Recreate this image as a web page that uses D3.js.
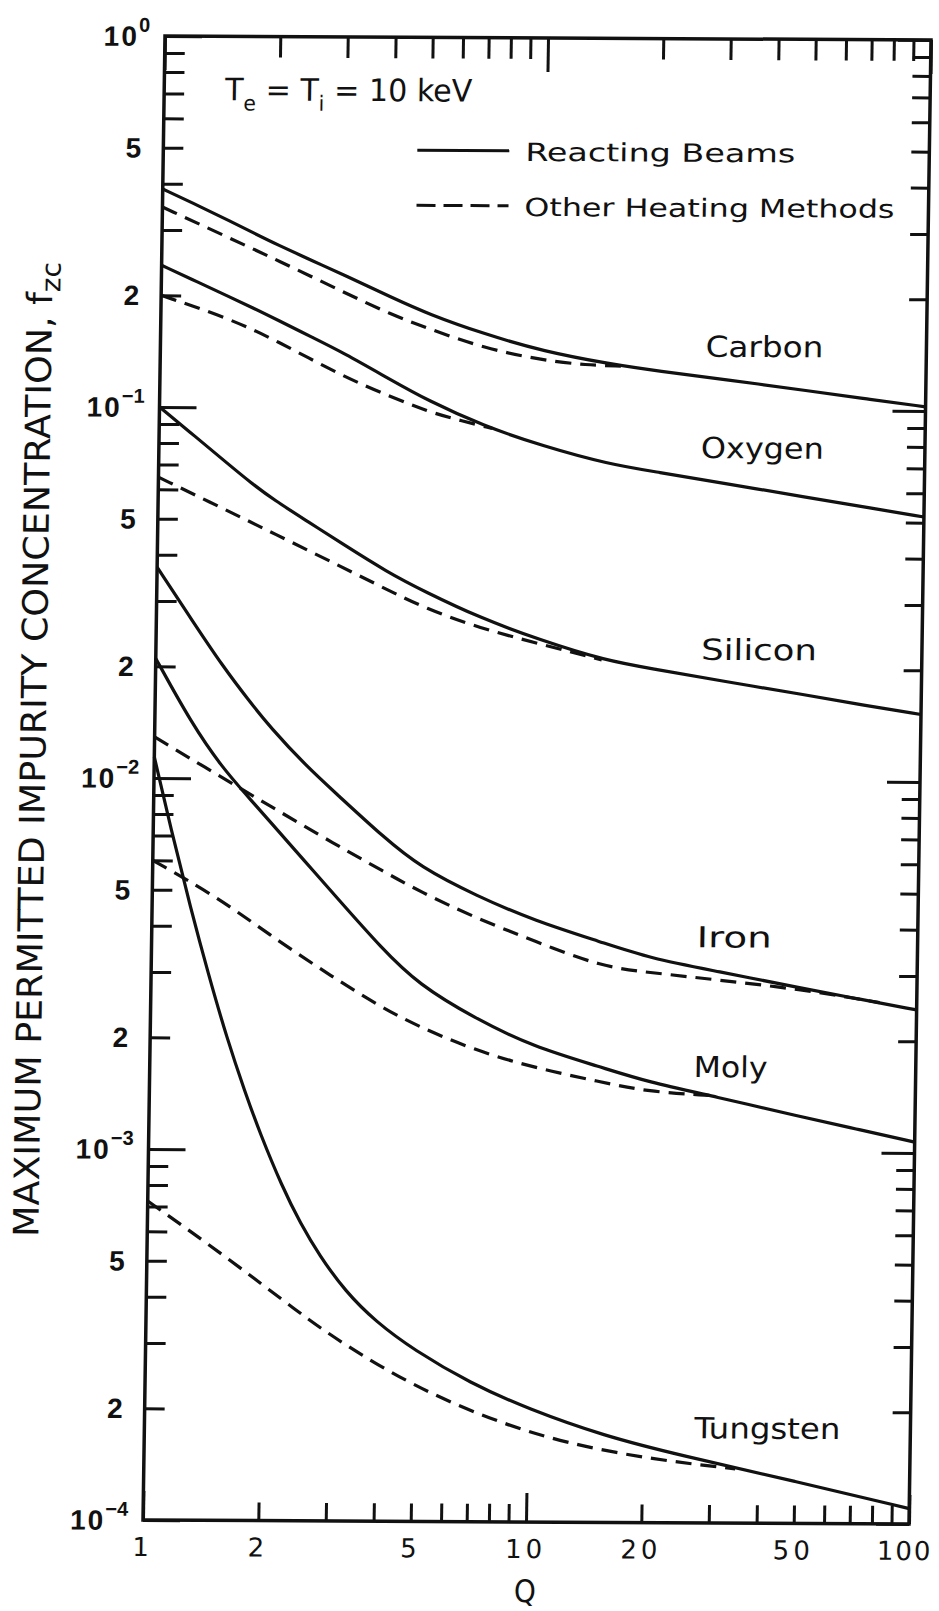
<!DOCTYPE html>
<html>
<head>
<meta charset="utf-8">
<script src="https://cdnjs.cloudflare.com/ajax/libs/d3/7.8.5/d3.min.js"></script>
<style>
  html, body { margin: 0; padding: 0; background: #fff; }
  svg { display: block; }
  text { fill: #111; }
</style>
</head>
<body>
<svg id="chart"></svg>
<script>
// Q grid used for most of the "Reacting Beams" (solid) curves
const qBeam = [1, 1.25, 1.5, 1.75, 2, 2.5, 3, 4, 5, 7, 10, 15, 20, 30, 50, 70, 100];

const carbonBeam  = [0.387, 0.348, 0.318, 0.294, 0.275, 0.248, 0.228, 0.199, 0.1795, 0.159, 0.143, 0.1324, 0.127, 0.1208, 0.1127, 0.1076, 0.1026];
const oxygenBeam  = [0.241, 0.217, 0.199, 0.185, 0.173, 0.1545, 0.141, 0.1194, 0.1052, 0.09, 0.0796, 0.0711, 0.0679, 0.0634, 0.0582, 0.055, 0.0518];
const siliconBeam = [0.1, 0.083, 0.0711, 0.0625, 0.0565, 0.0489, 0.0434, 0.0361, 0.0321, 0.0273, 0.0239, 0.021, 0.02, 0.0186, 0.0171, 0.0161, 0.0152];
const ironBeam    = [0.037, 0.0263, 0.02, 0.0163, 0.01377, 0.0108, 0.00912, 0.00697, 0.0058, 0.00487, 0.00417, 0.00366, 0.00332, 0.00307, 0.00277, 0.0026, 0.00243];
const molyBeam    = [0.021, 0.014, 0.01075, 0.009, 0.00773, 0.00598, 0.00485, 0.00349, 0.0028, 0.00228, 0.00191, 0.00169, 0.00154, 0.00141, 0.00125, 0.00116, 0.00107];
// tungsten falls steeply, so it is read on a finer Q grid
const qTungstenBeam = [1, 1.122, 1.259, 1.413, 1.585, 1.778, 1.95, 2.239, 2.512, 2.818, 3.311, 3.981, 5.012, 7.079, 10, 15.85, 25.12, 50.12, 100];
const tungstenBeam  = [0.0114, 0.00705, 0.00449, 0.00295, 0.002, 0.001426, 0.00111, 0.000796, 0.000632, 0.00052, 0.000415, 0.000345, 0.00029, 0.000236, 0.000202, 0.000171, 0.000152, 0.00013, 0.00011];

// "Other Heating Methods" (dashed) curves, each stops where it joins the solid one
const qCarbonOther = [1, 1.5, 2, 3, 4, 5, 7, 10, 13, 16];
const carbonOther  = [0.346, 0.286, 0.25, 0.205, 0.1786, 0.1642, 0.1455, 0.1352, 0.1315, 0.1308];
const qOxygenOther = [1, 1.5, 2, 3, 4, 5, 6, 7.4];
const oxygenOther  = [0.2, 0.174, 0.152, 0.1216, 0.1076, 0.0982, 0.0933, 0.0885];
const qSiliconOther = [1, 1.5, 2, 3, 4, 5, 7, 10, 14.6];
const siliconOther  = [0.0647, 0.053, 0.0459, 0.0375, 0.0324, 0.029, 0.0256, 0.0233, 0.0211];
const qIronOther = [1, 1.5, 2, 3, 4, 5, 7, 10, 15, 20, 30, 50, 80];
const ironOther  = [0.0129, 0.01007, 0.00847, 0.00665, 0.00565, 0.00498, 0.00424, 0.00368, 0.00314, 0.00304, 0.00291, 0.00275, 0.00254];
const qMolyOther = [1, 1.5, 2, 3, 4, 5, 7, 10, 15, 20, 29];
const molyOther  = [0.006, 0.00474, 0.00383, 0.00291, 0.00243, 0.00216, 0.00187, 0.00168, 0.00154, 0.00145, 0.00142];
const qTungstenOther = [1, 1.585, 2.512, 3.311, 5.012, 7.943, 12.59, 21.38, 35];
const tungstenOther  = [0.000724, 0.00052, 0.000363, 0.000298, 0.000232, 0.000189, 0.000163, 0.000148, 0.00014];

const elementNames = ["Carbon", "Oxygen", "Silicon", "Iron", "Moly", "Tungsten"];
// where each element name sits (Q, f at the start of its baseline)
const labelQ = [26.5, 26, 26.5, 26.5, 26.3, 27.3];
const labelF = [0.139, 0.0741, 0.0212, 0.00356, 0.00159, 0.000169];

// tick labels
const xTickLabels = [1, 2, 5, 10, 20, 50, 100];
const yDecadeLabels = [1, 0.1, 0.01, 0.001, 0.0001];
const yDecadeExp = ["0", "-1", "-2", "-3", "-4"];
const yMinorLabels = [0.5, 0.2, 0.05, 0.02, 0.005, 0.002, 0.0005, 0.0002];

const toPoints = (qs, vals) => qs.map((q, i) => ({ q: q, f: vals[i] }));
const beamSeries = [
    toPoints(qBeam, carbonBeam), toPoints(qBeam, oxygenBeam), toPoints(qBeam, siliconBeam),
    toPoints(qBeam, ironBeam), toPoints(qBeam, molyBeam), toPoints(qTungstenBeam, tungstenBeam)
];
const otherSeries = [
    toPoints(qCarbonOther, carbonOther), toPoints(qOxygenOther, oxygenOther),
    toPoints(qSiliconOther, siliconOther), toPoints(qIronOther, ironOther),
    toPoints(qMolyOther, molyOther), toPoints(qTungstenOther, tungstenOther)
];

// plot box (the scanned figure is slightly skewed, so the whole figure gets a small shear)
const width = 939, height = 1611;
const W = 766, H = 1484;

const svg = d3.select("#chart")
    .attr("width", width)
    .attr("height", height);

svg.append("rect").attr("width", width).attr("height", height).attr("fill", "#fff");

const g = svg.append("g")
    .attr("transform", `matrix(1, ${4 / W}, ${-22 / H}, 1, 165, 36)`);

const x = d3.scaleLog().domain([1, 100]).range([0, W]);
const y = d3.scaleLog().domain([1e-4, 1]).range([H, 0]);

const isDecade = d => Math.abs(Math.log10(d) - Math.round(Math.log10(d))) < 1e-6;
const ink = "#111";

// ticks on all four sides, pointing inward
function tickAxis(gen, tr, minor, major) {
    const a = g.append("g")
        .attr("transform", tr)
        .call(gen.tickFormat("").tickSizeOuter(0).tickSizeInner(minor));
    a.select(".domain").remove();
    a.selectAll(".tick line")
        .attr("stroke", ink)
        .attr("stroke-width", 3);
    a.selectAll(".tick").filter(d => isDecade(d)).select("line")
        .each(function () {
            const ln = d3.select(this);
            if (ln.attr("y2") !== null) ln.attr("y2", Math.sign(+ln.attr("y2")) * major);
            if (ln.attr("x2") !== null) ln.attr("x2", Math.sign(+ln.attr("x2")) * major);
        });
    return a;
}

tickAxis(d3.axisBottom(x).tickValues(x.ticks()), `translate(0,${H})`, -18, 29);
tickAxis(d3.axisTop(x).tickValues(x.ticks()), `translate(0,0)`, -21, 34);
tickAxis(d3.axisLeft(y).tickValues(y.ticks()), `translate(0,0)`, -20, 37);
tickAxis(d3.axisRight(y).tickValues(y.ticks()), `translate(${W},0)`, -18, 33);

// frame
g.append("rect")
    .attr("x", x(1)).attr("y", y(1))
    .attr("width", x(100) - x(1)).attr("height", y(1e-4) - y(1))
    .attr("fill", "none")
    .attr("stroke", ink)
    .attr("stroke-width", 3.5);

// curves
const line = d3.line()
    .x(d => x(d.q))
    .y(d => y(d.f))
    .curve(d3.curveBasis);

g.selectAll(".other")
    .data(otherSeries)
    .join("path")
    .attr("class", "other")
    .attr("d", line)
    .attr("fill", "none")
    .attr("stroke", ink)
    .attr("stroke-width", 3.2)
    .attr("stroke-dasharray", "16,9");

g.selectAll(".beam")
    .data(beamSeries)
    .join("path")
    .attr("class", "beam")
    .attr("d", line)
    .attr("fill", "none")
    .attr("stroke", ink)
    .attr("stroke-width", 3.2);

// element names
g.selectAll(".elabel")
    .data(elementNames)
    .join("text")
    .attr("class", "elabel")
    .attr("x", (d, i) => x(labelQ[i]))
    .attr("y", (d, i) => y(labelF[i]))
    .attr("font-family", "'DejaVu Sans Condensed', 'DejaVu Sans', sans-serif")
    .attr("font-size", 29)
    .attr("textLength", d => ({ Carbon: 118, Oxygen: 123, Silicon: 116, Iron: 75, Moly: 74, Tungsten: 146 })[d])
    .attr("lengthAdjust", "spacingAndGlyphs")
    .text(d => d);

// x tick labels
g.selectAll(".xlab")
    .data(xTickLabels)
    .join("text")
    .attr("class", "xlab")
    .attr("x", d => x(d) + (d === 100 ? -4 : 0))
    .attr("y", H + 36)
    .attr("text-anchor", "middle")
    .attr("font-family", "'DejaVu Sans', sans-serif")
    .attr("font-size", 26)
    .attr("letter-spacing", d => d === 100 ? 2 : 4)
    .text(d => d);

g.append("text")
    .attr("x", x(10))
    .attr("y", H + 80)
    .attr("text-anchor", "middle")
    .attr("font-family", "'DejaVu Sans Condensed', 'DejaVu Sans', sans-serif")
    .attr("font-size", 31)
    .text("Q");

// y tick labels: decades as 10 with exponent
const dec = g.selectAll(".ydec")
    .data(yDecadeLabels)
    .join("text")
    .attr("class", "ydec")
    .attr("x", -15)
    .attr("y", d => y(d) + 10)
    .attr("text-anchor", "end")
    .attr("font-family", "'Liberation Sans', Arial, sans-serif")
    .attr("font-weight", "bold")
    .attr("font-size", 28);
dec.append("tspan").attr("letter-spacing", 2).text("10");
dec.append("tspan")
    .attr("dy", -14)
    .attr("font-size", 20)
    .text((d, i) => yDecadeExp[i].replace("-", "\u2212"));

g.selectAll(".ymin")
    .data(yMinorLabels)
    .join("text")
    .attr("class", "ymin")
    .attr("x", -22)
    .attr("y", d => y(d) + 10)
    .attr("text-anchor", "end")
    .attr("font-family", "'Liberation Sans', Arial, sans-serif")
    .attr("font-weight", "bold")
    .attr("font-size", 28)
    .text(d => String(d / Math.pow(10, Math.floor(Math.log10(d) + 1e-9))).charAt(0));

// y axis title
const yt = g.append("text")
    .attr("transform", `translate(-109,714) rotate(-90)`)
    .attr("text-anchor", "middle")
    .attr("font-family", "'DejaVu Sans', sans-serif")
    .attr("font-size", 35)
    .attr("textLength", 975)
    .attr("lengthAdjust", "spacingAndGlyphs");
yt.append("tspan").text("MAXIMUM PERMITTED IMPURITY CONCENTRATION, f");
yt.append("tspan").attr("dy", 8).attr("font-size", 27).text("zc");

// temperature note
const tn = g.append("text")
    .attr("x", 61)
    .attr("y", 64)
    .attr("font-family", "'DejaVu Sans Condensed', 'DejaVu Sans', sans-serif")
    .attr("font-size", 31)
    .attr("textLength", 247)
    .attr("lengthAdjust", "spacingAndGlyphs");
tn.append("tspan").text("T");
tn.append("tspan").attr("dy", 10).attr("font-size", 21).text("e");
tn.append("tspan").attr("dy", -10).text(" = T");
tn.append("tspan").attr("dy", 10).attr("font-size", 21).text("i");
tn.append("tspan").attr("dy", -10).text(" = 10 keV");

// legend
const legend = [
    { label: "Reacting Beams", dash: null, v: 113, len: 270 },
    { label: "Other Heating Methods", dash: "19,8", v: 168, len: 370 }
];
const lg = g.selectAll(".leg").data(legend).join("g").attr("class", "leg");
lg.append("line")
    .attr("x1", 254).attr("x2", 346)
    .attr("y1", d => d.v).attr("y2", d => d.v)
    .attr("stroke", ink)
    .attr("stroke-width", 3)
    .attr("stroke-dasharray", d => d.dash);
lg.append("text")
    .attr("x", 362)
    .attr("y", d => d.v + 10)
    .attr("font-family", "'DejaVu Sans Condensed', 'DejaVu Sans', sans-serif")
    .attr("font-size", 25)
    .attr("textLength", d => d.len)
    .attr("lengthAdjust", "spacingAndGlyphs")
    .text(d => d.label);
</script>
</body>
</html>
